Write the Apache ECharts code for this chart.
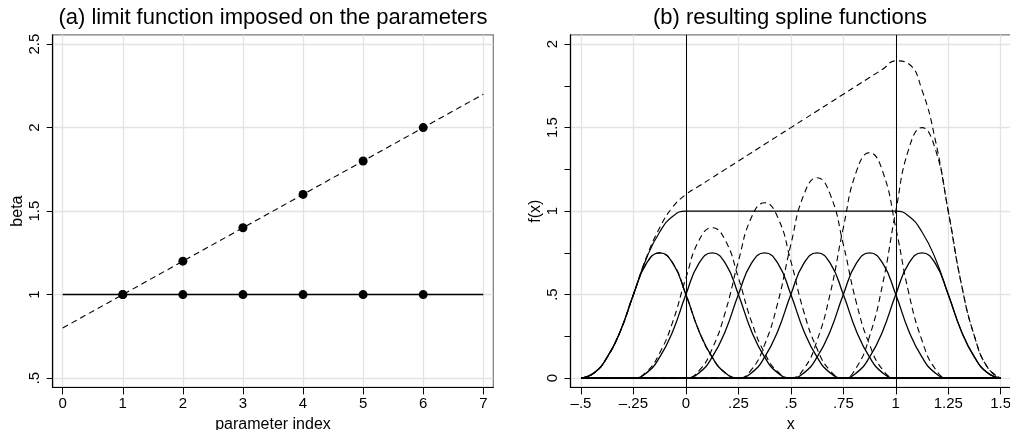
<!DOCTYPE html>
<html>
<head>
<meta charset="utf-8">
<script src="https://cdn.jsdelivr.net/npm/echarts@6/dist/echarts.min.js"></script>
<style>
html,body{margin:0;padding:0;background:#fff;}
#chart{width:1010px;height:430px;}
</style>
</head>
<body>
<div id="chart"></div>
<script>
// ---------- Panel (a) data ----------
const paramIndex = [1, 2, 3, 4, 5, 6];
const betaLimited = [1, 1.2, 1.4, 1.6, 1.8, 2.0];
const betaFlat = [1, 1, 1, 1, 1, 1];
const limitLineX = [0, 7];
const limitLineY = [0.8, 2.2];
const flatLineY = [1, 1];

// tick labels panel (a)
const aXTicks = [0, 1, 2, 3, 4, 5, 6, 7];
const aXLabels = ['0', '1', '2', '3', '4', '5', '6', '7'];
const aYTicks = [0.5, 1, 1.5, 2, 2.5];
const aYLabels = ['.5', '1', '1.5', '2', '2.5'];

// ---------- Panel (b) data ----------
const splineX = [-0.5, -0.4375, -0.375, -0.3125, -0.25, -0.1875, -0.125, -0.0625, 0, 0.0625, 0.125, 0.1875, 0.25, 0.3125, 0.375, 0.4375, 0.5, 0.5625, 0.625, 0.6875, 0.75, 0.8125, 0.875, 0.9375, 1, 1.0625, 1.125, 1.1875, 1.25, 1.3125, 1.375, 1.4375, 1.5];

// solid basis functions (beta = 1)
const basis1 = [0,0.031,0.125,0.281,0.5,0.688,0.75,0.688,0.5,0.281,0.125,0.031,0,0,0,0,0,0,0,0,0,0,0,0,0,0,0,0,0,0,0,0,0];
const basis2 = [0,0,0,0,0,0.031,0.125,0.281,0.5,0.688,0.75,0.688,0.5,0.281,0.125,0.031,0,0,0,0,0,0,0,0,0,0,0,0,0,0,0,0,0];
const basis3 = [0,0,0,0,0,0,0,0,0,0.031,0.125,0.281,0.5,0.688,0.75,0.688,0.5,0.281,0.125,0.031,0,0,0,0,0,0,0,0,0,0,0,0,0];
const basis4 = [0,0,0,0,0,0,0,0,0,0,0,0,0,0.031,0.125,0.281,0.5,0.688,0.75,0.688,0.5,0.281,0.125,0.031,0,0,0,0,0,0,0,0,0];
const basis5 = [0,0,0,0,0,0,0,0,0,0,0,0,0,0,0,0,0,0.031,0.125,0.281,0.5,0.688,0.75,0.688,0.5,0.281,0.125,0.031,0,0,0,0,0];
const basis6 = [0,0,0,0,0,0,0,0,0,0,0,0,0,0,0,0,0,0,0,0,0,0.031,0.125,0.281,0.5,0.688,0.75,0.688,0.5,0.281,0.125,0.031,0];
const sumFlat = [0,0.031,0.125,0.281,0.5,0.719,0.875,0.969,1,1,1,1,1,1,1,1,1,1,1,1,1,1,1,1,1,0.969,0.875,0.719,0.5,0.281,0.125,0.031,0];

// dashed basis functions (limited betas)
const limBasis1 = [0,0.031,0.125,0.281,0.5,0.688,0.75,0.688,0.5,0.281,0.125,0.031,0,0,0,0,0,0,0,0,0,0,0,0,0,0,0,0,0,0,0,0,0];
const limBasis2 = [0,0,0,0,0,0.038,0.15,0.338,0.6,0.825,0.9,0.825,0.6,0.338,0.15,0.038,0,0,0,0,0,0,0,0,0,0,0,0,0,0,0,0,0];
const limBasis3 = [0,0,0,0,0,0,0,0,0,0.044,0.175,0.394,0.7,0.963,1.05,0.963,0.7,0.394,0.175,0.044,0,0,0,0,0,0,0,0,0,0,0,0,0];
const limBasis4 = [0,0,0,0,0,0,0,0,0,0,0,0,0,0.05,0.2,0.45,0.8,1.1,1.2,1.1,0.8,0.45,0.2,0.05,0,0,0,0,0,0,0,0,0];
const limBasis5 = [0,0,0,0,0,0,0,0,0,0,0,0,0,0,0,0,0,0.056,0.225,0.506,0.9,1.238,1.35,1.238,0.9,0.506,0.225,0.056,0,0,0,0,0];
const limBasis6 = [0,0,0,0,0,0,0,0,0,0,0,0,0,0,0,0,0,0,0,0,0,0.063,0.25,0.563,1,1.375,1.5,1.375,1,0.563,0.25,0.063,0];
const sumLimited = [0,0.031,0.125,0.281,0.5,0.725,0.9,1.025,1.1,1.15,1.2,1.25,1.3,1.35,1.4,1.45,1.5,1.55,1.6,1.65,1.7,1.75,1.8,1.85,1.9,1.881,1.725,1.431,1,0.563,0.25,0.063,0];

const refLinesX = [0, 1];

// tick labels panel (b)
const bXTicks = [-0.5, -0.25, 0, 0.25, 0.5, 0.75, 1, 1.25, 1.5];
const bXLabels = ['\u2013.5', '\u2013.25', '0', '.25', '.5', '.75', '1', '1.25', '1.5'];
const bYTicks = [0, 0.5, 1, 1.5, 2];
const bYLabels = ['0', '.5', '1', '1.5', '2'];
const bYMinorTicks = [0.25, 0.75, 1.25, 1.75];

// ---------- helpers ----------
const FONT = 'Liberation Sans, Arial, Helvetica, sans-serif';
function labelOf(ticks, labels) {
  return function (v) {
    for (let i = 0; i < ticks.length; i++) if (Math.abs(ticks[i] - v) < 1e-9) return labels[i];
    return '';
  };
}
function pairs(xs, ys) { return xs.map((x, i) => [x, ys[i]]); }

const axisLineStyle = { show: true, onZero: false, lineStyle: { color: '#000', width: 1.2 } };
const gridLine = { show: true, lineStyle: { color: '#e3e3e3', width: 1.3 } };

function xAxisDef(gridIndex, min, max, ticks, labels, name) {
  return {
    type: 'value', gridIndex, min, max,
    axisLine: axisLineStyle,
    axisTick: { show: true, length: 7, customValues: ticks, lineStyle: { color: '#000', width: 1 } },
    axisLabel: { customValues: ticks, formatter: labelOf(ticks, labels), color: '#000', fontSize: 15, fontFamily: FONT, margin: 9 },
    splitLine: gridLine,
    name, nameLocation: 'middle', nameGap: 28,
    nameTextStyle: { color: '#000', fontSize: 16, fontFamily: FONT }
  };
}
function yAxisDef(gridIndex, min, max, ticks, labels, name) {
  return {
    type: 'value', gridIndex, min, max,
    axisLine: axisLineStyle,
    axisTick: { show: true, length: 6, customValues: ticks, lineStyle: { color: '#000', width: 1 } },
    axisLabel: { customValues: ticks, formatter: labelOf(ticks, labels), rotate: 90, color: '#000', fontSize: 15, fontFamily: FONT, margin: 10 },
    splitLine: gridLine,
    name, nameLocation: 'middle', nameGap: 27, nameRotate: 90,
    nameTextStyle: { color: '#000', fontSize: 16, fontFamily: FONT }
  };
}

const solid = (w) => ({ color: '#000', width: w, type: 'solid' });
const dashed = (w) => ({ color: '#000', width: w, type: [6, 4] });

function lineSeries(xi, yi, data, style, smooth) {
  return { type: 'line', xAxisIndex: xi, yAxisIndex: yi, data, showSymbol: false, symbol: 'none',
    lineStyle: style, smooth: smooth ? 0.5 : false, clip: true, silent: true, z: 3 };
}

const chart = echarts.init(document.getElementById('chart'), null, { renderer: 'canvas' });

const series = [
  // panel (a)
  lineSeries(0, 0, pairs(limitLineX, limitLineY), dashed(1.1), false),
  lineSeries(0, 0, pairs(limitLineX, flatLineY), solid(1.5), false),
  { type: 'scatter', xAxisIndex: 0, yAxisIndex: 0, data: pairs(paramIndex, betaLimited), symbol: 'circle', symbolSize: 9, itemStyle: { color: '#000', opacity: 1 }, silent: true, z: 4 },
  { type: 'scatter', xAxisIndex: 0, yAxisIndex: 0, data: pairs(paramIndex, betaFlat), symbol: 'circle', symbolSize: 9, itemStyle: { color: '#000', opacity: 1 }, silent: true, z: 4 },
];
[basis1, basis2, basis3, basis4, basis5, basis6].forEach(b => series.push(lineSeries(1, 1, pairs(splineX, b), solid(1.3), true)));
[limBasis1, limBasis2, limBasis3, limBasis4, limBasis5, limBasis6].forEach(b => series.push(lineSeries(1, 1, pairs(splineX, b), dashed(1.1), true)));
series.push(lineSeries(1, 1, pairs(splineX, sumFlat), solid(1.2), true));
const lastSeries = lineSeries(1, 1, pairs(splineX, sumLimited), dashed(1.1), true);
lastSeries.markLine = {
  silent: true, symbol: 'none', label: { show: false },
  lineStyle: { color: '#000', width: 1, type: 'solid' },
  data: refLinesX.map(v => ({ xAxis: v }))
};
series.push(lastSeries);

const minorY = {
  type: 'value', gridIndex: 1, min: -0.056, max: 2.056, position: 'left',
  axisLine: { show: false, onZero: false }, axisLabel: { show: false }, splitLine: { show: false },
  axisTick: { show: true, length: 6, customValues: bYMinorTicks, lineStyle: { color: '#000', width: 1 } }
};

chart.setOption({
  animation: false,
  backgroundColor: '#fff',
  title: [
    { text: '(a) limit function imposed on the parameters', left: 273, top: 7, textAlign: 'center', padding: 0,
      textStyle: { color: '#000', fontSize: 22, fontWeight: 'normal', fontFamily: FONT } },
    { text: '(b) resulting spline functions', left: 790, top: 7, textAlign: 'center', padding: 0,
      textStyle: { color: '#000', fontSize: 22, fontWeight: 'normal', fontFamily: FONT } }
  ],
  grid: [
    { left: 52.7, top: 34.8, width: 440.6, height: 352.6, show: true, borderColor: '#7a7a7a', borderWidth: 1.2, backgroundColor: 'transparent', containLabel: false, outerBoundsMode: 'none' },
    { left: 570.5, top: 34.8, width: 440.7, height: 352.6, show: true, borderColor: '#7a7a7a', borderWidth: 1.2, backgroundColor: 'transparent', containLabel: false, outerBoundsMode: 'none' }
  ],
  xAxis: [
    xAxisDef(0, -0.1664, 7.1664, aXTicks, aXLabels, 'parameter index'),
    xAxisDef(1, -0.55, 1.55, bXTicks, bXLabels, 'x')
  ],
  yAxis: [
    yAxisDef(0, 0.444, 2.556, aYTicks, aYLabels, 'beta'),
    yAxisDef(1, -0.056, 2.056, bYTicks, bYLabels, 'f(x)'),
    minorY
  ],
  series
});
</script>
</body>
</html>
